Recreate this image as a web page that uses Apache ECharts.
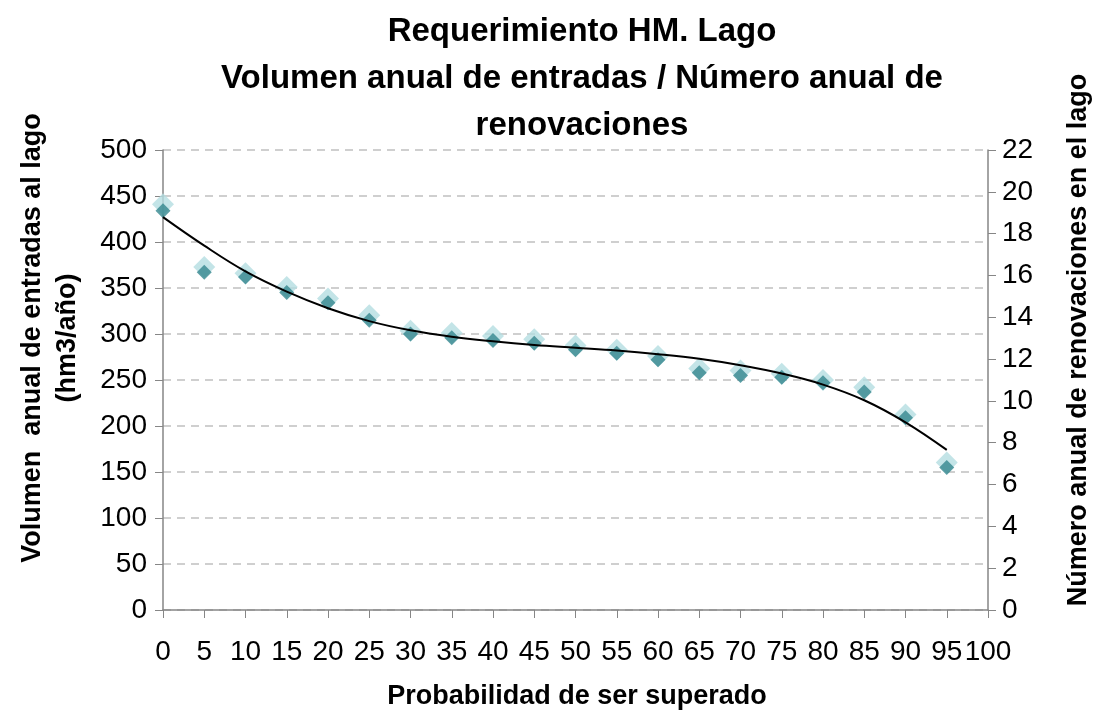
<!DOCTYPE html>
<html>
<head>
<meta charset="utf-8">
<script src="https://cdn.jsdelivr.net/npm/echarts@6/dist/echarts.min.js"></script>
<style>
  html, body { margin: 0; padding: 0; background: #fff; }
  #chart { width: 1096px; height: 714px; }
</style>
</head>
<body>
<div id="chart"></div>
<script>
// probabilidad de ser superado (%)
const probs = [0, 5, 10, 15, 20, 25, 30, 35, 40, 45, 50, 55, 60, 65, 70, 75, 80, 85, 90, 95]
// volumen anual de entradas (hm3/año) - eje izquierdo
const volumen = [434, 367, 362, 345, 334, 315, 300, 296, 293, 290, 283, 279, 272, 258, 255, 253, 247, 237, 209, 155]
// número anual de renovaciones - eje derecho
const renovaciones = [19.4, 16.4, 16.1, 15.45, 14.9, 14.1, 13.35, 13.25, 13.1, 12.95, 12.65, 12.45, 12.15, 11.55, 11.45, 11.3, 11.0, 10.65, 9.35, 7.05]
// línea de tendencia
const tendencia = [427, 396, 368, 346, 328, 314, 304, 297, 292, 288, 285, 282, 278, 273, 266, 257, 245, 228, 204, 174]

const font = 'Liberation Sans'
const chart = echarts.init(document.getElementById('chart'))

chart.setOption({
  animation: false,
  textStyle: { fontFamily: font, color: '#000' },
  title: {
    text: 'Requerimiento HM. Lago\nVolumen anual de entradas / Número anual de\nrenovaciones',
    left: 577,
    textAlign: 'center',
    top: 3,
    textStyle: { fontSize: 33, fontWeight: 'bold', lineHeight: 47, color: '#000', fontFamily: font },
  },
  grid: { left: 163, right: 108, top: 150, bottom: 104 },
  xAxis: {
    type: 'value',
    min: 0,
    max: 100,
    interval: 5,
    axisLine: { lineStyle: { color: '#868686', width: 1.5 } },
    axisTick: { show: true, length: 8, lineStyle: { color: '#868686' } },
    axisLabel: { fontSize: 28, color: '#000', margin: 28, fontFamily: font },
    splitLine: { show: false },
  },
  yAxis: [
    {
      type: 'value',
      min: 0,
      max: 500,
      interval: 50,
      axisLine: { show: true, lineStyle: { color: '#868686', width: 1.5 } },
      axisTick: { show: true, length: 8, lineStyle: { color: '#868686' } },
      axisLabel: { fontSize: 28, color: '#000', margin: 16, fontFamily: font },
      splitLine: { lineStyle: { color: '#c0c0c0', type: [8, 6], width: 1.5 } },
    },
    {
      type: 'value',
      min: 0,
      max: 22,
      interval: 2,
      position: 'right',
      axisLine: { show: true, lineStyle: { color: '#868686', width: 1.5 } },
      axisTick: { show: true, length: 8, lineStyle: { color: '#868686' } },
      axisLabel: { fontSize: 28, color: '#000', margin: 14, fontFamily: font },
      splitLine: { show: false },
    },
  ],
  graphic: [
    {
      type: 'text',
      x: 50,
      y: 338,
      rotation: Math.PI / 2,
      style: {
        text: 'Volumen  anual de entradas al lago\n(hm3/año)',
        font: 'bold 27px "Liberation Sans"',
        fill: '#000',
        align: 'center',
        verticalAlign: 'middle',
        lineHeight: 35,
      },
    },
    {
      type: 'text',
      x: 1079,
      y: 340,
      rotation: Math.PI / 2,
      style: {
        text: 'Número anual de renovaciones en el lago',
        font: 'bold 27px "Liberation Sans"',
        fill: '#000',
        align: 'center',
        verticalAlign: 'middle',
      },
    },
    {
      type: 'text',
      x: 577,
      y: 697,
      style: {
        text: 'Probabilidad de ser superado',
        font: 'bold 27px "Liberation Sans"',
        fill: '#000',
        align: 'center',
        verticalAlign: 'middle',
      },
    },
  ],
  series: [
    {
      name: 'Renovaciones',
      type: 'scatter',
      yAxisIndex: 1,
      symbol: 'diamond',
      symbolSize: 22,
      itemStyle: { color: '#b4dde1' },
      data: probs.map((p, i) => [p, renovaciones[i]]),
      z: 2,
    },
    {
      name: 'Volumen',
      type: 'scatter',
      yAxisIndex: 0,
      symbol: 'diamond',
      symbolSize: 15,
      itemStyle: { color: '#35878e' },
      data: probs.map((p, i) => [p, volumen[i]]),
      z: 3,
    },
    {
      name: 'Tendencia',
      type: 'line',
      yAxisIndex: 0,
      smooth: 0.4,
      symbol: 'none',
      lineStyle: { color: '#000', width: 2 },
      data: probs.map((p, i) => [p, tendencia[i]]),
      z: 4,
    },
  ],
})
</script>
</body>
</html>
